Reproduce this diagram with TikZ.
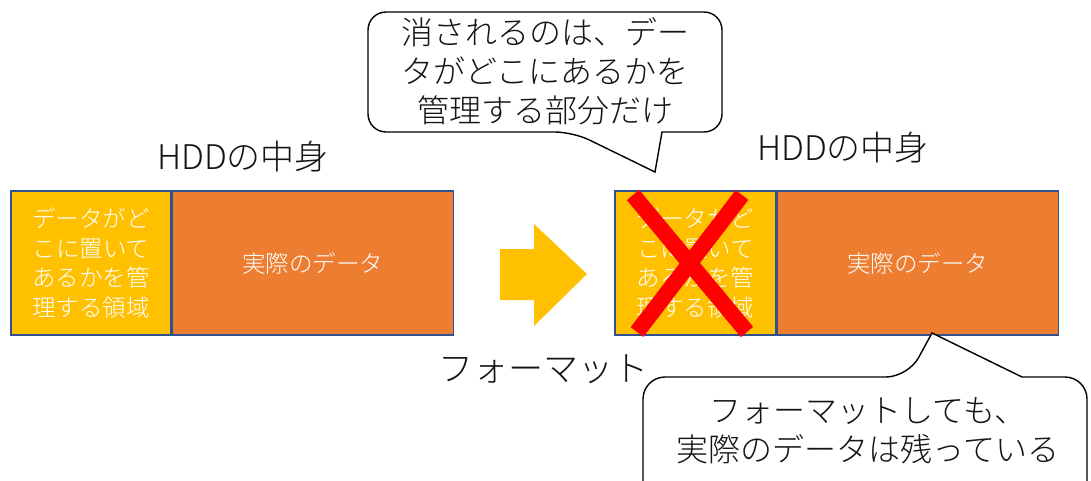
\documentclass[tikz,border=0pt]{standalone}
\usepackage{fontspec}
\setmainfont{Noto Sans CJK JP}[UprightFont={* Light}]
\definecolor{boxyellow}{RGB}{255,192,0}
\definecolor{boxorange}{RGB}{237,125,49}
\definecolor{boxline}{RGB}{47,82,143}
\definecolor{txtgray}{RGB}{20,20,20}
\tikzset{
  area/.style={draw=boxline, line width=1.3pt, inner sep=0pt, text=white, align=center, minimum height=144pt},
  ybox/.style={area, fill=boxyellow, minimum width=160pt, font=\fontsize{23.5}{29.5}\selectfont},
  obox/.style={area, fill=boxorange, minimum width=281pt, font=\fontsize{23.5}{29.5}\selectfont},
  title/.style={text=txtgray, font=\fontsize{34}{38}\selectfont, inner sep=0pt},
  calltext/.style={text=txtgray, align=center, inner sep=0pt, font=\fontsize{32}{39}\selectfont},
  callline/.style={draw=black, line width=1.4pt, fill=white},
  cross/.style={draw=red, line width=16pt},
}
\begin{document}
\begin{tikzpicture}[x=1pt,y=-1pt]
\useasboundingbox (0,0) rectangle (1091,480);
\clip (0,0) rectangle (1091,480);
% left HDD
\node[title] (t1) at (243,157) {HDDの中身};
\node[ybox] (y1) at (91,263) {データがど\\こに置いて\\あるかを管\\理する領域};
\node[obox, anchor=west] (o1) at (y1.east) {実際のデータ};
% arrow
\fill[boxyellow] (500,249) -- (534,249) -- (534,224) -- (587,274) -- (534,326) -- (534,300) -- (500,300) -- cycle;
\node[title, font=\fontsize{35}{40}\selectfont] (fmt) at (543,369) {フォーマット};
% right HDD
\node[title] (t2) at (843,148) {HDDの中身};
\node[ybox, minimum width=161pt] (y2) at (695.5,263) {データがど\\こに置いて\\あるかを管\\理する領域};
\node[obox, anchor=west] (o2) at (y2.east) {実際のデータ};
\coordinate (xa) at (633,195);
\coordinate (xb) at (747,332);
\coordinate (xc) at (742,195);
\coordinate (xd) at (637,332);
\draw[cross] (xa) -- (xb);
\draw[cross] (xc) -- (xd);
% callout 1
\draw[callline] (545,12) [rounded corners=18] -- (368,12) -- (368,132) -- (573,132) [sharp corners] -- (655,172) -- (662,132) [rounded corners=18] -- (722,132) -- (722,12) -- cycle;
\node[calltext] (c1) at (545,71) {消されるのは、デー\\タがどこにあるかを\\管理する部分だけ};
% callout 2
\draw[callline] (643,460) [rounded corners=22] -- (643,377) -- (908,377) [sharp corners] -- (932,333) -- (1022,377) [rounded corners=22] -- (1087,377) -- (1087,520) -- (643,520) -- cycle;
\node[calltext] (c2) at (868,431) {フォーマットしても、\\実際のデータは残っている};
\end{tikzpicture}
\end{document}
